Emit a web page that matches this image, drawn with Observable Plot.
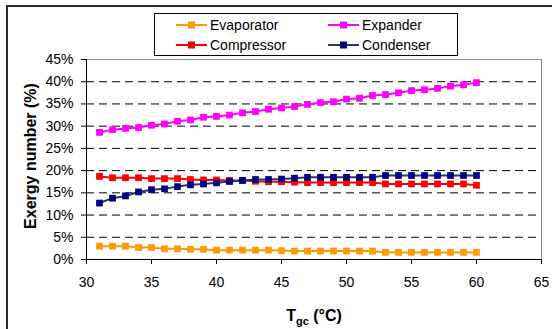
<!DOCTYPE html>
<html>
<head>
<meta charset="utf-8">
<script src="https://cdn.jsdelivr.net/npm/d3@7"></script>
<script src="https://cdn.jsdelivr.net/npm/@observablehq/plot@0.6"></script>
<style>
  body { margin: 0; background: #fff; }
  #chart svg { display: block; }
</style>
</head>
<body>
<div id="chart"></div>
<script>
// Gas-cooler outlet temperature (°C)
const temperatures = [31, 32, 33, 34, 35, 36, 37, 38, 39, 40, 41, 42, 43, 44, 45,
                      46, 47, 48, 49, 50, 51, 52, 53, 54, 55, 56, 57, 58, 59, 60];

// Exergy number of each component (%)
const evaporator = [3.0, 3.0, 3.0, 2.7, 2.7, 2.4, 2.4, 2.3, 2.3, 2.1, 2.1, 2.1, 2.1, 2.1, 2.0,
                    1.9, 1.9, 1.9, 1.9, 1.9, 1.9, 1.9, 1.6, 1.6, 1.6, 1.6, 1.6, 1.6, 1.6, 1.6];
const expander = [28.6, 29.2, 29.5, 29.7, 30.2, 30.5, 31.1, 31.4, 32.0, 32.2, 32.5, 33.0, 33.3, 33.8, 34.1,
                  34.4, 34.9, 35.3, 35.5, 36.1, 36.3, 36.9, 37.1, 37.5, 38.0, 38.2, 38.5, 39.0, 39.3, 39.8];
const compressor = [18.7, 18.4, 18.4, 18.4, 18.2, 18.2, 18.2, 18.0, 17.9, 17.9, 17.8, 17.8, 17.6, 17.5, 17.5,
                    17.4, 17.3, 17.3, 17.3, 17.3, 17.3, 17.3, 17.0, 17.0, 17.0, 17.0, 17.0, 17.0, 17.0, 16.7];
const condenser = [12.7, 13.8, 14.3, 15.2, 15.7, 15.9, 16.4, 16.8, 17.0, 17.25, 17.55, 17.8, 18.0, 18.0, 18.1,
                   18.3, 18.5, 18.5, 18.5, 18.5, 18.5, 18.5, 18.9, 18.9, 18.9, 18.9, 18.9, 18.9, 18.9, 18.9];

const xTicks = [30, 35, 40, 45, 50, 55, 60, 65];
const yTicks = [0, 5, 10, 15, 20, 25, 30, 35, 40, 45];
const gridLines = [5, 10, 15, 20, 25, 30, 35, 40];

const series = [
  { name: "Evaporator", values: evaporator, line: "#FF9900", marker: "#FF9900" },
  { name: "Compressor", values: compressor, line: "#FF0000", marker: "#FF0000" },
  { name: "Expander",   values: expander,   line: "#FF00FF", marker: "#FF00FF" },
  { name: "Condenser",  values: condenser,  line: "#1F3B6E", marker: "#000080" }
];

const font = "'Liberation Sans', Arial, sans-serif";

const seriesMarks = series.flatMap(s => {
  const rows = temperatures.map((t, i) => ({ t, v: s.values[i] }));
  return [
    Plot.line(rows, { x: "t", y: "v", stroke: s.line, strokeWidth: 2 }),
    Plot.dot(rows, { x: "t", y: "v", symbol: "square", r: 3.8, fill: s.marker, stroke: "none" })
  ];
});

const svg = Plot.plot({
  width: 552,
  height: 329,
  marginLeft: 86,
  marginRight: 11,
  marginTop: 59,
  marginBottom: 70,
  style: { fontFamily: font, fontSize: "14px", background: "#fff", color: "#000", overflow: "visible" },
  x: { domain: [30, 65], label: null },
  y: { domain: [0, 45], label: null },
  marks: [
    Plot.ruleY(gridLines, { stroke: "#000", strokeWidth: 1, strokeDasharray: "8,5" }),
    Plot.ruleY([45], { stroke: "#8c8c8c", strokeWidth: 1 }),
    Plot.ruleX([65], { stroke: "#8c8c8c", strokeWidth: 1 }),
    Plot.axisX({ ticks: xTicks, tickSize: 5, tickPadding: 13, label: null, stroke: "#000", fontSize: 14 }),
    Plot.axisY({ ticks: yTicks, tickSize: 5, tickPadding: 8, label: null, tickFormat: d => d + "%", stroke: "#000", fontSize: 14 }),
    Plot.ruleX([30], { stroke: "#000", strokeWidth: 1 }),
    Plot.ruleY([0], { stroke: "#000", strokeWidth: 1 }),
    ...seriesMarks
  ]
});

const root = d3.select(svg);

// Outer chart border
root.insert("rect", ":first-child")
  .attr("x", 7).attr("y", 6).attr("width", 600).attr("height", 400)
  .attr("fill", "none").attr("stroke", "#2a2a2a").attr("stroke-width", 2);

// Axis titles
root.append("text")
  .attr("transform", "translate(36,156) rotate(-90)")
  .attr("text-anchor", "middle")
  .attr("font-family", font).attr("font-size", 16).attr("font-weight", "bold")
  .text("Exergy number (%)");

const xt = root.append("text")
  .attr("x", 314).attr("y", 321)
  .attr("text-anchor", "middle")
  .attr("font-family", font).attr("font-size", 16).attr("font-weight", "bold");
xt.append("tspan").text("T");
xt.append("tspan").attr("font-size", 11).attr("dy", 4).text("gc");
xt.append("tspan").attr("dy", -4).text(" (°C)");

// Legend
const legend = root.append("g")
  .attr("font-family", font).attr("font-size", 14).attr("text-anchor", "start");
legend.append("rect")
  .attr("x", 154.5).attr("y", 13.5).attr("width", 303).attr("height", 42)
  .attr("fill", "#fff").attr("stroke", "#000").attr("stroke-width", 1);
const slots = [
  { x: 176, y: 25 }, { x: 176, y: 45 }, { x: 328, y: 25 }, { x: 328, y: 45 }
];
series.forEach((s, i) => {
  const p = slots[i];
  const g = legend.append("g").attr("transform", `translate(${p.x},${p.y})`);
  g.append("line").attr("x1", 0).attr("x2", 31).attr("y1", 0).attr("y2", 0)
    .attr("stroke", s.line).attr("stroke-width", 2);
  g.append("rect").attr("x", 12).attr("y", -3.5).attr("width", 7).attr("height", 7)
    .attr("fill", s.marker);
  g.append("text").attr("x", 34).attr("y", 5).attr("text-anchor", "start").text(s.name);
});

document.getElementById("chart").appendChild(svg);
</script>
</body>
</html>
